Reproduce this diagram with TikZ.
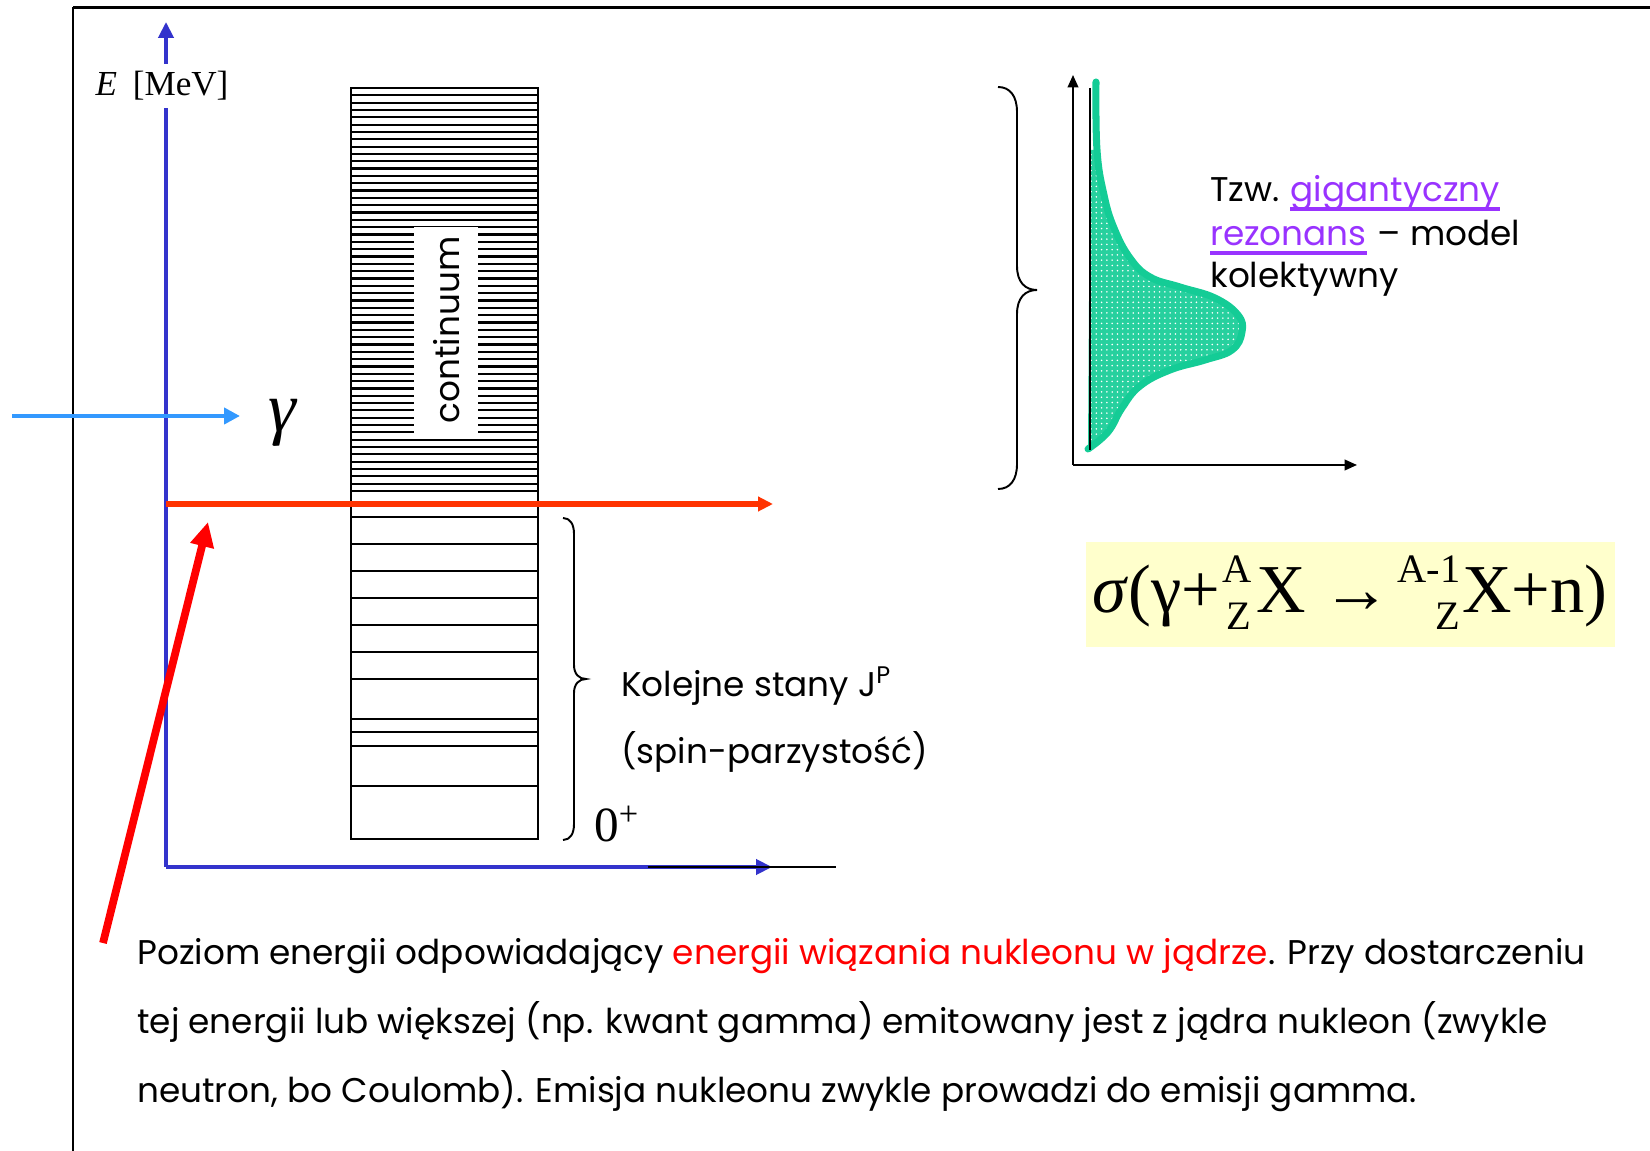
\documentclass[tikz,border=0pt]{standalone}
\usepackage{fontspec}
\setmainfont{Liberation Serif}
\newfontfamily\comic{Poppins}
\usetikzlibrary{arrows.meta,patterns}
\definecolor{axblue}{RGB}{51,51,204}
\definecolor{gblue}{RGB}{51,153,255}
\definecolor{lvlred}{RGB}{255,51,0}
\definecolor{bigred}{RGB}{255,0,0}
\definecolor{gcurve}{RGB}{20,204,150}
\definecolor{purp}{RGB}{153,51,255}
\definecolor{yell}{RGB}{255,255,204}
\begin{document}
\begin{tikzpicture}[x=0.02cm,y=-0.02cm,
  comictext/.style={font=\comic\fontsize{19.5}{23}\selectfont, inner sep=0pt, anchor=base west},
  serifbig/.style={font=\fontsize{39}{39}\selectfont, inner sep=0pt, anchor=base west},
  serifsmall/.style={font=\fontsize{23}{23}\selectfont, inner sep=0pt, anchor=base west},
  blueaxis/.style={axblue, line width=2.1pt},
  bluetip/.style={-{Triangle[length=9pt,width=8.5pt]}},
  blackaxis/.style={black, line width=1.1pt, -{Triangle[length=7pt,width=6pt]}},
  levelline/.style={black, line width=1.2pt},
  contline/.style={black, line width=1.25pt},
  bracepath/.style={black, line width=1.1pt},
  ulline/.style={purp, line width=1.9pt}]
\useasboundingbox (0,0) rectangle (1650,1151);
% frame
\draw[line width=1.7pt] (73,8) -- (1660,8);
\draw[line width=1.1pt] (73,7) -- (73,1160);
% level scheme
\foreach \k in {1,...,54} {
  \draw[contline] (351,{88+\k*7.327}) -- (538,{88+\k*7.327});
}
\draw[black, line width=1.7pt] (351,491) -- (538,491);
\foreach \yy in {517,544,571,598,625,652,679,719,732,746,786} {
  \draw[levelline] (351,\yy) -- (538,\yy);
}
\draw[black, line width=1.6pt] (351,88) rectangle (538,839);
\fill[white] (414,227) rectangle (478,437);
\node[font=\comic\fontsize{19.5}{23}\selectfont, rotate=90, inner sep=0pt] (cont) at (447,330) {continuum};
% main axes
\coordinate (O) at (166,867);
\coordinate (Etop) at (166,22);
\coordinate (Eright) at (772,867);
\coordinate (bl1) at (648,867);
\coordinate (bl2) at (836,867);
\draw[blueaxis, bluetip] (O) -- (Etop);
\draw[blueaxis, bluetip] (O) -- (Eright);
\draw[black, line width=1.1pt] (bl1) -- (bl2);
\node[font=\fontsize{20}{20}\selectfont, fill=white, inner sep=4pt] (elabel) at (162,86) {\textit{E}\hspace{0.45em}[MeV]};
% gamma arrow
\coordinate (g1) at (12,416);
\coordinate (g2) at (240,416);
\draw[gblue, line width=2.7pt, -{Triangle[length=9pt,width=9pt]}] (g1) -- (g2);
\node[font=\fontsize{40}{40}\selectfont, inner sep=0pt] (glabel) at (283,423) {\textit{γ}};
% binding level
\coordinate (r1) at (166,504);
\coordinate (r2) at (773,504);
\draw[lvlred, line width=3.2pt, -{Triangle[length=8.5pt,width=8pt]}] (r1) -- (r2);
% big red arrow
\coordinate (br1) at (103,943);
\coordinate (br2) at (208,522);
\draw[bigred, line width=4.4pt, -{Triangle[length=14pt,width=13pt]}] (br1) -- (br2);
% lower brace
\draw[bracepath] (563,518) .. controls (570,518) and (574,524) .. (574,534) -- (574,665) .. controls (574,674) and (579,679) .. (586,679) .. controls (579,679) and (574,684) .. (574,693) -- (574,824) .. controls (574,834) and (570,840) .. (563,840);
\node[comictext] (kol) at (621,697) {Kolejne stany J\textsuperscript{P}};
\node[comictext] (spin) at (621,764) {(spin-parzystość)};
\node[font=\fontsize{28}{28}\selectfont, inner sep=0pt, anchor=base west] (zero) at (594,841) {0\textsuperscript{+}};
% upper brace
\draw[bracepath] (998,87) .. controls (1010,87) and (1017,96) .. (1017,112) -- (1017,266) .. controls (1017,282) and (1025,290) .. (1037,290) .. controls (1025,290) and (1017,298) .. (1017,314) -- (1017,464) .. controls (1017,480) and (1010,489) .. (998,489);
% resonance plot
\coordinate (ro) at (1073,465);
\coordinate (rtop) at (1073,75);
\coordinate (rright) at (1357,465);
\draw[blackaxis] (ro) -- (rtop);
\draw[blackaxis] (ro) -- (rright);
\fill[gcurve!92!white] (1090,150) -- plot[smooth,tension=0.7] coordinates {(1097,150) (1104,195) (1114,228) (1130,258) (1150,277) (1180,287) (1215,298) (1238,315) (1242,332) (1232,350) (1205,360) (1170,370) (1140,386) (1122,408) (1108,432) (1088,449)} -- cycle;
\fill[pattern=dots, pattern color=white] (1090,150) -- plot[smooth,tension=0.7] coordinates {(1097,150) (1104,195) (1114,228) (1130,258) (1150,277) (1180,287) (1215,298) (1238,315) (1242,332) (1232,350) (1205,360) (1170,370) (1140,386) (1122,408) (1108,432) (1088,449)} -- cycle;
\draw[gcurve, line width=4pt, line cap=round] plot[smooth,tension=0.7] coordinates {(1096,82) (1097,150) (1104,195) (1114,228) (1130,258) (1150,277) (1180,287) (1215,298) (1238,315) (1242,332) (1232,350) (1205,360) (1170,370) (1140,386) (1122,408) (1108,432) (1088,449)};
\coordinate (v1) at (1090,88);
\coordinate (v2) at (1090,450);
\draw[black, line width=1pt] (v1) -- (v2);
\node[comictext] (tzw) at (1210,202) {Tzw.\kern0.3em};
\node[comictext, purp] (gig) at (tzw.base east) {gigantyczny};
\draw[ulline] ([yshift=-4pt]gig.base west) -- ([yshift=-4pt]gig.base east);
\node[comictext, purp] (rez) at (1210,246) {rezonans};
\draw[ulline] ([yshift=-4pt]rez.base west) -- ([yshift=-4pt]rez.base east);
\node[comictext] (model) at (rez.base east) {\kern0.3em– model};
\node[comictext] (kolek) at (1210,288) {kolektywny};
% formula
\fill[yell] (1086,542) rectangle (1615,647);
\node[serifbig] (f1) at (1092,613) {\textit{σ}(γ+};
\node[serifsmall] (fa) at (1222,583) {A};
\node[serifsmall] (fz) at (1226,630) {Z};
\node[serifbig] (fx) at (1256,613) {X};
\node[serifbig] (farr) at (1322,613) {→};
\node[serifsmall, anchor=base east] (fa1) at (1461,583) {A-1};
\node[serifsmall, anchor=base east] (fz2) at (1461,630) {Z};
\node[serifbig] (fx2) at (1462,613) {X+n)};
% bottom text
\node[comictext] (t1) at (137,964) {Poziom energii odpowiadający {\color{bigred}energii wiązania nukleonu w jądrze}. Przy dostarczeniu};
\node[comictext] (t2) at (137,1033) {tej energii lub większej (np. kwant gamma) emitowany jest z jądra nukleon (zwykle};
\node[comictext] (t3) at (137,1102) {neutron, bo Coulomb). Emisja nukleonu zwykle prowadzi do emisji gamma.};
\end{tikzpicture}
\end{document}
